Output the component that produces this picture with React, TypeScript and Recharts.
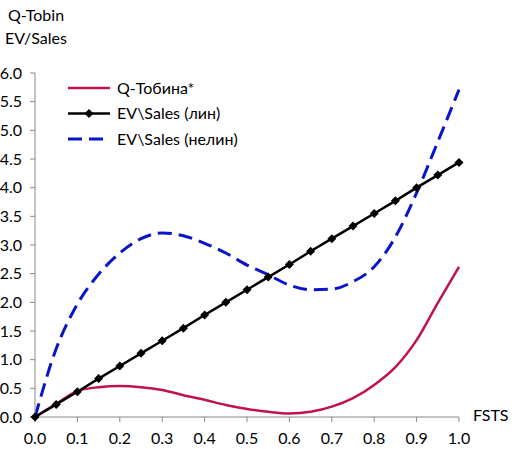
import React from "react";
import { LineChart, Line, XAxis, YAxis } from "recharts";

// FSTS values along the x axis
const fsts = [
  0, 0.05, 0.1, 0.15, 0.2, 0.25, 0.3, 0.35, 0.4, 0.45, 0.5,
  0.55, 0.6, 0.65, 0.7, 0.75, 0.8, 0.85, 0.9, 0.95, 1.0,
];

// Q-Tobin*
const qTobin = [
  0, 0.23, 0.45, 0.52, 0.54, 0.52, 0.47, 0.38, 0.3, 0.21, 0.14,
  0.09, 0.06, 0.09, 0.18, 0.33, 0.56, 0.87, 1.34, 1.99, 2.62,
];

// EV\Sales (lin)
const evLin = [
  0, 0.22, 0.44, 0.67, 0.89, 1.11, 1.33, 1.55, 1.78, 2.0, 2.22,
  2.44, 2.66, 2.89, 3.11, 3.33, 3.55, 3.77, 4.0, 4.22, 4.44,
];

// EV\Sales (nonlin)
const evNonlin = [
  0, 1.19, 1.97, 2.49, 2.86, 3.11, 3.21, 3.16, 3.03, 2.86, 2.65,
  2.48, 2.3, 2.22, 2.23, 2.36, 2.62, 3.14, 3.91, 4.8, 5.71,
];

const xTicks = [0, 0.1, 0.2, 0.3, 0.4, 0.5, 0.6, 0.7, 0.8, 0.9, 1.0];
const yTicks = [0, 0.5, 1, 1.5, 2, 2.5, 3, 3.5, 4, 4.5, 5, 5.5, 6];

const data = fsts.map((x, i) => ({
  x,
  q: qTobin[i],
  lin: evLin[i],
  nelin: evNonlin[i],
}));

const FONT = "Lato, 'Open Sans', sans-serif";
const FS = 16;
const RED = "#C0134E";
const BLUE = "#0A14C8";
const AXIS = "#888888";

const Diamond = (props: any) => {
  const { cx, cy, index } = props;
  if (cx == null || cy == null) return null;
  const r = 4.5;
  return (
    <path
      key={`d-${index}`}
      d={`M${cx},${cy - r} L${cx + r},${cy} L${cx},${cy + r} L${cx - r},${cy} Z`}
      fill="#000"
    />
  );
};

const legendRows = [
  { name: "Q-Тобина*", color: RED, dash: undefined, marker: false },
  { name: "EV\\Sales (лин)", color: "#000", dash: undefined, marker: true },
  { name: "EV\\Sales (нелин)", color: BLUE, dash: "14 7", marker: false },
];

export default function App() {
  return (
    <div
      style={{
        position: "fixed",
        left: 0,
        top: 0,
        width: 518,
        height: 449,
        background: "#fff",
        fontFamily: FONT,
      }}
    >
      <div style={{ position: "absolute", left: 8, top: 5, fontSize: FS }}>Q-Tobin</div>
      <div style={{ position: "absolute", left: 5, top: 28, fontSize: FS }}>EV/Sales</div>
      <div style={{ position: "absolute", left: 473, top: 405, fontSize: FS }}>FSTS</div>

      <svg
        width={210}
        height={80}
        style={{ position: "absolute", left: 60, top: 72 }}
      >
        {legendRows.map((r, i) => {
          const y = 16 + i * 25.5;
          return (
            <g key={r.name}>
              <line
                x1={8}
                x2={50}
                y1={y}
                y2={y}
                stroke={r.color}
                strokeWidth={r.dash ? 3 : 2.5}
                strokeDasharray={r.dash}
              />
              {r.marker && (
                <path d={`M29,${y - 4.5} L33.5,${y} L29,${y + 4.5} L24.5,${y} Z`} fill="#000" />
              )}
              <text x={57} y={y + 5.5} fontSize={FS} fill="#000" fontFamily={FONT}>
                {r.name}
              </text>
            </g>
          );
        })}
      </svg>

      <LineChart
        width={518}
        height={449}
        data={data}
        margin={{ top: 73, right: 59, bottom: 2, left: 0 }}
        style={{ position: "absolute", left: 0, top: 0 }}
      >
        <XAxis
          dataKey="x"
          type="number"
          domain={[0, 1]}
          ticks={xTicks}
          tickFormatter={(v: number) => v.toFixed(1)}
          stroke={AXIS}
          tickSize={5}
          tickMargin={11}
          height={30}
          tick={{ fill: "#000", fontSize: FS, fontFamily: FONT }}
          interval={0}
        />
        <YAxis
          type="number"
          domain={[0, 6]}
          ticks={yTicks}
          tickFormatter={(v: number) => v.toFixed(1)}
          stroke={AXIS}
          tickSize={5}
          tickMargin={8}
          width={35}
          tick={{ fill: "#000", fontSize: FS, fontFamily: FONT }}
          interval={0}
        />
        <Line
          dataKey="q"
          type="monotone"
          stroke={RED}
          strokeWidth={2.5}
          dot={false}
          isAnimationActive={false}
        />
        <Line
          dataKey="nelin"
          type="monotone"
          stroke={BLUE}
          strokeWidth={3}
          strokeDasharray="14 7"
          dot={false}
          isAnimationActive={false}
        />
        <Line
          dataKey="lin"
          type="linear"
          stroke="#000"
          strokeWidth={2.5}
          dot={Diamond}
          isAnimationActive={false}
        />
      </LineChart>
    </div>
  );
}
